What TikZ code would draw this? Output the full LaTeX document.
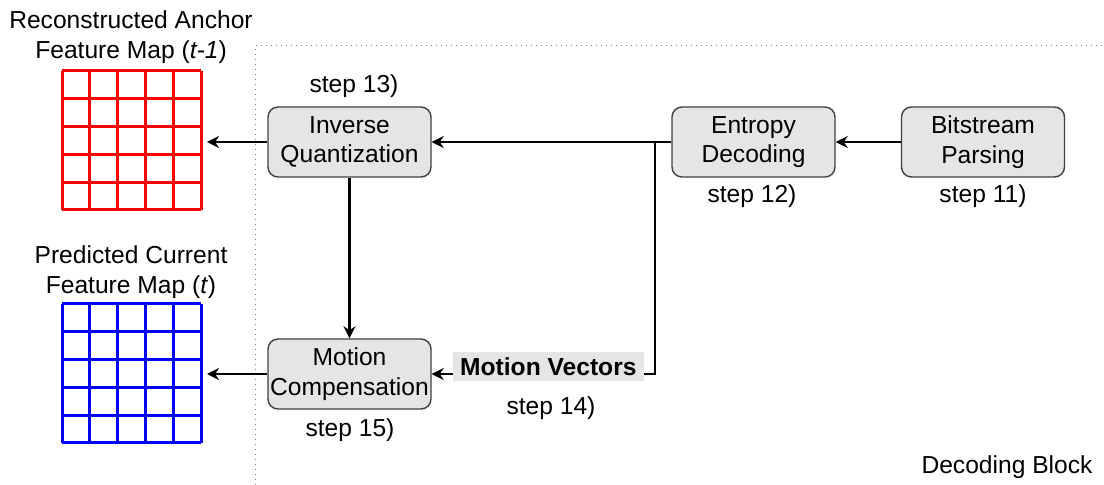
\documentclass[tikz,border=0pt]{standalone}
\usepackage{fontspec}
\setmainfont{Liberation Sans}
\usetikzlibrary{arrows.meta}

\begin{document}
\begin{tikzpicture}[x=0.5pt, y=-0.5pt,
    font=\fontsize{12.3}{14.8}\selectfont,
    block/.style={rectangle, rounded corners=5pt, draw=black!75, line width=0.7pt,
        fill=gray!20, minimum width=81.5pt, minimum height=35pt, align=center, inner sep=1pt},
    stepnote/.style={inner sep=0pt},
    title/.style={align=center, inner sep=0pt},
    fmap/.style={rectangle, minimum size=69.5pt, inner sep=0pt, outer sep=3pt},
    arrow/.style={line width=1.2pt, -{Stealth[length=6pt, width=6pt]}},
    redmap/.style={red, line width=1.5pt},
    bluemap/.style={blue, line width=1.5pt}
]
    \useasboundingbox (0,0) rectangle (1104,485);

    % decoding block frame
    \draw[dotted, gray, line width=0.5pt] (255,485) -- (255,46) -- (1104,46);
    \node[stepnote] (blk) at (1007,467) {Decoding Block};

    % feature maps
    \node[title] (anchortitle) at (131,37) {Reconstructed Anchor\\Feature Map (\textit{t-1})};
    \node[fmap] (anchormap) at (131.5,140.5) {};
    \foreach \k in {0,...,5} {
        \draw[redmap] (62+27.8*\k,71) -- (62+27.8*\k,210);
        \draw[redmap] (62,71+27.8*\k) -- (201,71+27.8*\k);
    }
    \node[title] (predtitle) at (131,272) {Predicted Current\\Feature Map (\textit{t})};
    \node[fmap] (predmap) at (131.5,373.5) {};
    \foreach \k in {0,...,5} {
        \draw[bluemap] (62+27.8*\k,304) -- (62+27.8*\k,443);
        \draw[bluemap] (62,304+27.8*\k) -- (201,304+27.8*\k);
    }

    % processing blocks
    \node[block] (iq) at (349.5,142) {Inverse\\Quantization};
    \node[block] (ed) at (753.5,142) {Entropy\\Decoding};
    \node[block] (bp) at (983,142) {Bitstream\\Parsing};
    \node[block] (mc) at (349.5,374) {Motion\\Compensation};

    \node[stepnote] (s13) at (354,86) {step 13)};
    \node[stepnote] (s12) at (752,196) {step 12)};
    \node[stepnote] (s11) at (983,196) {step 11)};
    \node[stepnote] (s15) at (350,430) {step 15)};
    \node[stepnote] (s14) at (551,408) {step 14)};

    \coordinate (split) at (655,142);

    % connectors
    \draw[arrow] (bp.west) -- (ed.east);
    \draw[arrow] (ed.west) -- (iq.east);
    \draw[arrow] (iq.south) -- (mc.north);
    \draw[arrow] (split) |- node[pos=0.75, xshift=2.5pt, yshift=3.5pt, fill=gray!20, inner xsep=3.75pt,
        minimum height=14.5pt, inner ysep=1pt, font=\fontsize{12.3}{14.8}\selectfont\bfseries] (mv)
        {Motion Vectors} (mc.east);
    \draw[arrow] (iq.west) -- (iq.west -| anchormap.east);
    \draw[arrow] (mc.west) -- (mc.west -| predmap.east);
\end{tikzpicture}
\end{document}
